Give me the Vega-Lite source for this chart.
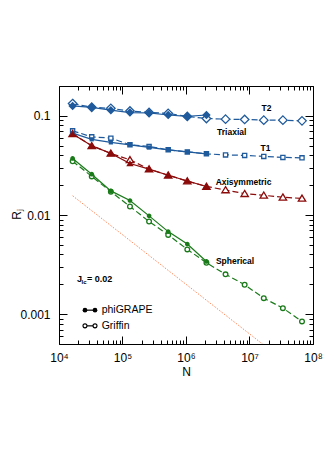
{
  "$schema": "https://vega.github.io/schema/vega-lite/v6.json",
  "width": 254,
  "height": 258,
  "autosize": "none",
  "padding": {"left": 59, "top": 86, "right": 18, "bottom": 124},
  "background": "white",
  "config": {"view": {"stroke": null}, "font": "Liberation Sans"},
  "datasets": {
    "series": [
      {"model": "T2", "code": "phiGRAPE", "N": 16384, "R": 0.126},
      {"model": "T2", "code": "phiGRAPE", "N": 32768, "R": 0.122},
      {"model": "T2", "code": "phiGRAPE", "N": 65536, "R": 0.114},
      {"model": "T2", "code": "phiGRAPE", "N": 131072, "R": 0.108},
      {"model": "T2", "code": "phiGRAPE", "N": 262144, "R": 0.107},
      {"model": "T2", "code": "phiGRAPE", "N": 524288, "R": 0.102},
      {"model": "T2", "code": "phiGRAPE", "N": 1048576, "R": 0.0986},
      {"model": "T2", "code": "phiGRAPE", "N": 2097152, "R": 0.102},
      {"model": "T2", "code": "Griffin", "N": 16384, "R": 0.133},
      {"model": "T2", "code": "Griffin", "N": 32768, "R": 0.122},
      {"model": "T2", "code": "Griffin", "N": 65536, "R": 0.119},
      {"model": "T2", "code": "Griffin", "N": 131072, "R": 0.112},
      {"model": "T2", "code": "Griffin", "N": 262144, "R": 0.108},
      {"model": "T2", "code": "Griffin", "N": 524288, "R": 0.106},
      {"model": "T2", "code": "Griffin", "N": 1048576, "R": 0.0986},
      {"model": "T2", "code": "Griffin", "N": 2097152, "R": 0.094},
      {"model": "T2", "code": "Griffin", "N": 4194304, "R": 0.0926},
      {"model": "T2", "code": "Griffin", "N": 8388608, "R": 0.092},
      {"model": "T2", "code": "Griffin", "N": 16777216, "R": 0.0905},
      {"model": "T2", "code": "Griffin", "N": 33554432, "R": 0.0905},
      {"model": "T2", "code": "Griffin", "N": 67108864, "R": 0.089},
      {"model": "T1", "code": "phiGRAPE", "N": 16384, "R": 0.067},
      {"model": "T1", "code": "phiGRAPE", "N": 32768, "R": 0.058},
      {"model": "T1", "code": "phiGRAPE", "N": 65536, "R": 0.054},
      {"model": "T1", "code": "phiGRAPE", "N": 131072, "R": 0.051},
      {"model": "T1", "code": "phiGRAPE", "N": 262144, "R": 0.048},
      {"model": "T1", "code": "phiGRAPE", "N": 524288, "R": 0.0454},
      {"model": "T1", "code": "phiGRAPE", "N": 1048576, "R": 0.0433},
      {"model": "T1", "code": "phiGRAPE", "N": 2097152, "R": 0.0414},
      {"model": "T1", "code": "Griffin", "N": 16384, "R": 0.0706},
      {"model": "T1", "code": "Griffin", "N": 32768, "R": 0.0614},
      {"model": "T1", "code": "Griffin", "N": 65536, "R": 0.0596},
      {"model": "T1", "code": "Griffin", "N": 131072, "R": 0.051},
      {"model": "T1", "code": "Griffin", "N": 262144, "R": 0.0492},
      {"model": "T1", "code": "Griffin", "N": 524288, "R": 0.0454},
      {"model": "T1", "code": "Griffin", "N": 1048576, "R": 0.0433},
      {"model": "T1", "code": "Griffin", "N": 2097152, "R": 0.0414},
      {"model": "T1", "code": "Griffin", "N": 4194304, "R": 0.0404},
      {"model": "T1", "code": "Griffin", "N": 8388608, "R": 0.0399},
      {"model": "T1", "code": "Griffin", "N": 16777216, "R": 0.039},
      {"model": "T1", "code": "Griffin", "N": 33554432, "R": 0.0381},
      {"model": "T1", "code": "Griffin", "N": 67108864, "R": 0.0377},
      {"model": "Axisymmetric", "code": "phiGRAPE", "N": 16384, "R": 0.0655},
      {"model": "Axisymmetric", "code": "phiGRAPE", "N": 32768, "R": 0.0499},
      {"model": "Axisymmetric", "code": "phiGRAPE", "N": 65536, "R": 0.0418},
      {"model": "Axisymmetric", "code": "phiGRAPE", "N": 131072, "R": 0.0331},
      {"model": "Axisymmetric", "code": "phiGRAPE", "N": 262144, "R": 0.029},
      {"model": "Axisymmetric", "code": "phiGRAPE", "N": 524288, "R": 0.0252},
      {"model": "Axisymmetric", "code": "phiGRAPE", "N": 1048576, "R": 0.022},
      {"model": "Axisymmetric", "code": "phiGRAPE", "N": 2097152, "R": 0.0194},
      {"model": "Axisymmetric", "code": "Griffin", "N": 16384, "R": 0.066},
      {"model": "Axisymmetric", "code": "Griffin", "N": 32768, "R": 0.0499},
      {"model": "Axisymmetric", "code": "Griffin", "N": 65536, "R": 0.0418},
      {"model": "Axisymmetric", "code": "Griffin", "N": 131072, "R": 0.036},
      {"model": "Axisymmetric", "code": "Griffin", "N": 262144, "R": 0.029},
      {"model": "Axisymmetric", "code": "Griffin", "N": 524288, "R": 0.0252},
      {"model": "Axisymmetric", "code": "Griffin", "N": 1048576, "R": 0.022},
      {"model": "Axisymmetric", "code": "Griffin", "N": 2097152, "R": 0.0194},
      {"model": "Axisymmetric", "code": "Griffin", "N": 4194304, "R": 0.0179},
      {"model": "Axisymmetric", "code": "Griffin", "N": 8388608, "R": 0.0164},
      {"model": "Axisymmetric", "code": "Griffin", "N": 16777216, "R": 0.0158},
      {"model": "Axisymmetric", "code": "Griffin", "N": 33554432, "R": 0.0151},
      {"model": "Axisymmetric", "code": "Griffin", "N": 67108864, "R": 0.0147},
      {"model": "Spherical", "code": "phiGRAPE", "N": 16384, "R": 0.0372},
      {"model": "Spherical", "code": "phiGRAPE", "N": 32768, "R": 0.0258},
      {"model": "Spherical", "code": "phiGRAPE", "N": 65536, "R": 0.0175},
      {"model": "Spherical", "code": "phiGRAPE", "N": 131072, "R": 0.014},
      {"model": "Spherical", "code": "phiGRAPE", "N": 262144, "R": 0.0098},
      {"model": "Spherical", "code": "phiGRAPE", "N": 524288, "R": 0.0068},
      {"model": "Spherical", "code": "phiGRAPE", "N": 1048576, "R": 0.0051},
      {"model": "Spherical", "code": "phiGRAPE", "N": 2097152, "R": 0.0034},
      {"model": "Spherical", "code": "Griffin", "N": 16384, "R": 0.0349},
      {"model": "Spherical", "code": "Griffin", "N": 32768, "R": 0.0245},
      {"model": "Spherical", "code": "Griffin", "N": 65536, "R": 0.0172},
      {"model": "Spherical", "code": "Griffin", "N": 131072, "R": 0.0122},
      {"model": "Spherical", "code": "Griffin", "N": 262144, "R": 0.0086},
      {"model": "Spherical", "code": "Griffin", "N": 524288, "R": 0.0063},
      {"model": "Spherical", "code": "Griffin", "N": 1048576, "R": 0.0045},
      {"model": "Spherical", "code": "Griffin", "N": 2097152, "R": 0.0033},
      {"model": "Spherical", "code": "Griffin", "N": 4194304, "R": 0.00252},
      {"model": "Spherical", "code": "Griffin", "N": 8388608, "R": 0.00198},
      {"model": "Spherical", "code": "Griffin", "N": 16777216, "R": 0.00145},
      {"model": "Spherical", "code": "Griffin", "N": 33554432, "R": 0.00115},
      {"model": "Spherical", "code": "Griffin", "N": 67108864, "R": 0.000845}
    ],
    "ref": [
      {"N": 16384, "R": 0.015625},
      {"N": 16000000, "R": 0.0005}
    ],
    "notes": [
      {"N": 18530000, "R": 0.1197, "text": "T2"},
      {"N": 5250000, "R": 0.0686, "text": "Triaxial"},
      {"N": 17860000, "R": 0.0472, "text": "T1"},
      {"N": 8050000, "R": 0.0215, "text": "Axisymmetric"},
      {"N": 5920000, "R": 0.00343, "text": "Spherical"}
    ],
    "jlc": [
      {"N": 19200, "R": 0.002254}
    ],
    "legend": [
      {"code": "phiGRAPE", "N": 25650, "R": 0.001097},
      {"code": "phiGRAPE", "N": 36900, "R": 0.001097},
      {"code": "Griffin", "N": 25650, "R": 0.000762},
      {"code": "Griffin", "N": 36900, "R": 0.000762}
    ],
    "legendText": [
      {"code": "phiGRAPE", "N": 47000, "R": 0.001097},
      {"code": "Griffin", "N": 47000, "R": 0.000762}
    ]
  },
  "layer": [
    {
      "data": {"name": "ref"},
      "mark": {"type": "line", "color": "#ff8a5c", "strokeDash": [1.5, 1.5], "strokeWidth": 1, "clip": true},
      "encoding": {
        "x": {"field": "N", "type": "quantitative", "scale": {"type": "log", "domain": [10000, 100000000], "nice": false},
          "axis": {
            "orient": "bottom",
            "values": [10000, 100000, 1000000, 10000000, 100000000],
            "labelExpr": "datum.value == 10000 ? '10⁴' : datum.value == 100000 ? '10⁵' : datum.value == 1000000 ? '10⁶' : datum.value == 10000000 ? '10⁷' : '10⁸'",
            "labelOverlap": false, "labelFlush": false, "grid": false,
            "tickSize": -8,
            "labelPadding": 16, "tickColor": "black", "domainColor": "black", "labelColor": "black",
            "labelFontSize": 12, "labelFont": "Liberation Sans", "tickWidth": 1, "domainWidth": 1,
            "title": "N", "titleFontSize": 12, "titleFontWeight": "normal", "titleColor": "black", "titleFont": "Liberation Sans", "titlePadding": 3
          }},
        "y": {"field": "R", "type": "quantitative", "scale": {"type": "log", "domain": [0.0005, 0.2], "nice": false},
          "axis": {
            "orient": "left",
            "values": [0.001, 0.01, 0.1],
            "labelExpr": "datum.value == 0.1 ? '0.1' : datum.value == 0.01 ? '0.01' : '0.001'",
            "labelOverlap": false, "labelFlush": false, "grid": false,
            "tickSize": -8,
            "labelPadding": 17, "tickColor": "black", "domainColor": "black", "labelColor": "black",
            "labelFontSize": 12, "labelFont": "Liberation Sans", "tickWidth": 1, "domainWidth": 1,
            "title": "Rⱼ", "titleFontSize": 12, "titleFontWeight": "normal", "titleColor": "black", "titleFont": "Liberation Sans",
            "titleX": -36, "titleY": 128
          }}
      }
    },
    {
      "data": {"name": "series"},
      "transform": [{"filter": "datum.code == 'Griffin'"}],
      "mark": {"type": "line", "strokeDash": [6, 3], "strokeWidth": 1.2},
      "encoding": {
        "x": {"field": "N", "type": "quantitative", "scale": {"type": "log", "domain": [10000, 100000000], "nice": false},
          "axis": {
            "orient": "top",
            "values": [10000, 100000, 1000000, 10000000, 100000000],
            "labels": false, "title": null, "grid": false,
            "tickSize": -8,
            "tickColor": "black", "domainColor": "black", "tickWidth": 1, "domainWidth": 1
          }},
        "y": {"field": "R", "type": "quantitative", "scale": {"type": "log", "domain": [0.0005, 0.2], "nice": false},
          "axis": {
            "orient": "right",
            "values": [0.001, 0.01, 0.1],
            "labels": false, "title": null, "grid": false,
            "tickSize": -8,
            "tickColor": "black", "domainColor": "black", "tickWidth": 1, "domainWidth": 1
          }},
        "color": {"field": "model", "type": "nominal", "legend": null,
          "scale": {"domain": ["T2", "T1", "Axisymmetric", "Spherical"], "range": ["#1f5a9c", "#1f5a9c", "#8b0a0a", "#1a7a1a"]}},
        "detail": {"field": "model"}
      }
    },
    {
      "data": {"name": "series"},
      "transform": [{"filter": "datum.code == 'Griffin'"}],
      "mark": {"type": "point", "filled": false, "fill": "white", "strokeWidth": 1.3, "opacity": 1, "size": 100},
      "encoding": {
        "x": {"field": "N", "type": "quantitative", "scale": {"type": "log", "domain": [10000, 100000000], "nice": false},
          "axis": {
            "orient": "bottom",
            "values": [20000, 30000, 40000, 50000, 60000, 70000, 80000, 90000, 200000, 300000, 400000, 500000, 600000, 700000, 800000, 900000, 2000000, 3000000, 4000000, 5000000, 6000000, 7000000, 8000000, 9000000, 20000000, 30000000, 40000000, 50000000, 60000000, 70000000, 80000000, 90000000],
            "labels": false, "title": null, "grid": false, "domain": false,
            "tickSize": -4, "tickColor": "black", "tickWidth": 1
          }},
        "y": {"field": "R", "type": "quantitative", "scale": {"type": "log", "domain": [0.0005, 0.2], "nice": false},
          "axis": {
            "orient": "left",
            "values": [0.0005, 0.0006, 0.0007, 0.0008, 0.0009, 0.002, 0.003, 0.004, 0.005, 0.006, 0.007, 0.008, 0.009, 0.02, 0.03, 0.04, 0.05, 0.06, 0.07, 0.08, 0.09, 0.2],
            "labels": false, "title": null, "grid": false, "domain": false,
            "tickSize": -4, "tickColor": "black", "tickWidth": 1
          }},
        "color": {"field": "model", "type": "nominal", "legend": null},
        "shape": {"field": "model", "type": "nominal", "legend": null,
          "scale": {"domain": ["T2", "T1", "Axisymmetric", "Spherical"],
            "range": ["M0,-0.85L0.85,0L0,0.85L-0.85,0Z", "M-0.42,-0.42L0.42,-0.42L0.42,0.42L-0.42,0.42Z", "M0,-0.66L0.74,0.56L-0.74,0.56Z", "M0.47,0A0.47,0.47,0,1,1,-0.47,0A0.47,0.47,0,1,1,0.47,0Z"]}}
      }
    },
    {
      "data": {"name": "series"},
      "transform": [{"filter": "datum.code == 'phiGRAPE'"}],
      "mark": {"type": "line", "strokeWidth": 1.2},
      "encoding": {
        "x": {"field": "N", "type": "quantitative", "scale": {"type": "log", "domain": [10000, 100000000], "nice": false},
          "axis": {
            "orient": "top",
            "values": [20000, 30000, 40000, 50000, 60000, 70000, 80000, 90000, 200000, 300000, 400000, 500000, 600000, 700000, 800000, 900000, 2000000, 3000000, 4000000, 5000000, 6000000, 7000000, 8000000, 9000000, 20000000, 30000000, 40000000, 50000000, 60000000, 70000000, 80000000, 90000000],
            "labels": false, "title": null, "grid": false, "domain": false,
            "tickSize": -4, "tickColor": "black", "tickWidth": 1
          }},
        "y": {"field": "R", "type": "quantitative", "scale": {"type": "log", "domain": [0.0005, 0.2], "nice": false},
          "axis": {
            "orient": "right",
            "values": [0.0005, 0.0006, 0.0007, 0.0008, 0.0009, 0.002, 0.003, 0.004, 0.005, 0.006, 0.007, 0.008, 0.009, 0.02, 0.03, 0.04, 0.05, 0.06, 0.07, 0.08, 0.09, 0.2],
            "labels": false, "title": null, "grid": false, "domain": false,
            "tickSize": -4, "tickColor": "black", "tickWidth": 1
          }},
        "color": {"field": "model", "type": "nominal", "legend": null},
        "detail": {"field": "model"}
      }
    },
    {
      "data": {"name": "series"},
      "transform": [{"filter": "datum.code == 'phiGRAPE'"}],
      "mark": {"type": "point", "filled": true, "opacity": 1, "size": 100, "strokeWidth": 0.6},
      "encoding": {
        "x": {"field": "N", "type": "quantitative", "axis": null},
        "y": {"field": "R", "type": "quantitative", "axis": null},
        "color": {"field": "model", "type": "nominal", "legend": null},
        "shape": {"field": "model", "type": "nominal", "legend": null}
      }
    },
    {
      "data": {"name": "notes"},
      "mark": {"type": "text", "font": "Liberation Sans", "fontWeight": "bold", "fontSize": 8.5, "align": "center", "baseline": "middle", "color": "black"},
      "encoding": {
        "x": {"field": "N", "type": "quantitative", "axis": null},
        "y": {"field": "R", "type": "quantitative", "axis": null},
        "text": {"field": "text"}
      }
    },
    {
      "data": {"name": "jlc"},
      "mark": {"type": "text", "font": "Liberation Sans", "fontWeight": "bold", "fontSize": 9, "align": "left", "baseline": "middle", "color": "black", "text": "J"},
      "encoding": {
        "x": {"field": "N", "type": "quantitative", "axis": null},
        "y": {"field": "R", "type": "quantitative", "axis": null}
      }
    },
    {
      "data": {"name": "jlc"},
      "mark": {"type": "text", "font": "Liberation Sans", "fontWeight": "bold", "fontSize": 6, "align": "left", "baseline": "middle", "color": "black", "text": "lc", "dx": 4.5, "dy": 3},
      "encoding": {
        "x": {"field": "N", "type": "quantitative", "axis": null},
        "y": {"field": "R", "type": "quantitative", "axis": null}
      }
    },
    {
      "data": {"name": "jlc"},
      "mark": {"type": "text", "font": "Liberation Sans", "fontWeight": "bold", "fontSize": 9, "align": "left", "baseline": "middle", "color": "black", "text": "= 0.02", "dx": 10},
      "encoding": {
        "x": {"field": "N", "type": "quantitative", "axis": null},
        "y": {"field": "R", "type": "quantitative", "axis": null}
      }
    },
    {
      "data": {"name": "legend"},
      "mark": {"type": "line", "color": "black", "strokeWidth": 1.2},
      "encoding": {
        "x": {"field": "N", "type": "quantitative", "axis": null},
        "y": {"field": "R", "type": "quantitative", "axis": null},
        "detail": {"field": "code"}
      }
    },
    {
      "data": {"name": "legend"},
      "transform": [{"filter": "datum.code == 'Griffin'"}],
      "mark": {"type": "point", "shape": "circle", "filled": false, "fill": "white", "color": "black", "strokeWidth": 1.1, "size": 16, "opacity": 1},
      "encoding": {
        "x": {"field": "N", "type": "quantitative", "axis": null},
        "y": {"field": "R", "type": "quantitative", "axis": null}
      }
    },
    {
      "data": {"name": "legend"},
      "transform": [{"filter": "datum.code == 'phiGRAPE'"}],
      "mark": {"type": "point", "shape": "circle", "filled": true, "color": "black", "size": 22, "opacity": 1},
      "encoding": {
        "x": {"field": "N", "type": "quantitative", "axis": null},
        "y": {"field": "R", "type": "quantitative", "axis": null}
      }
    },
    {
      "data": {"name": "legendText"},
      "mark": {"type": "text", "font": "Liberation Sans", "fontSize": 10.5, "align": "left", "baseline": "middle", "color": "black"},
      "encoding": {
        "x": {"field": "N", "type": "quantitative", "axis": null},
        "y": {"field": "R", "type": "quantitative", "axis": null},
        "text": {"field": "code"}
      }
    }
  ],
  "resolve": {"axis": {"x": "independent", "y": "independent"}}
}
